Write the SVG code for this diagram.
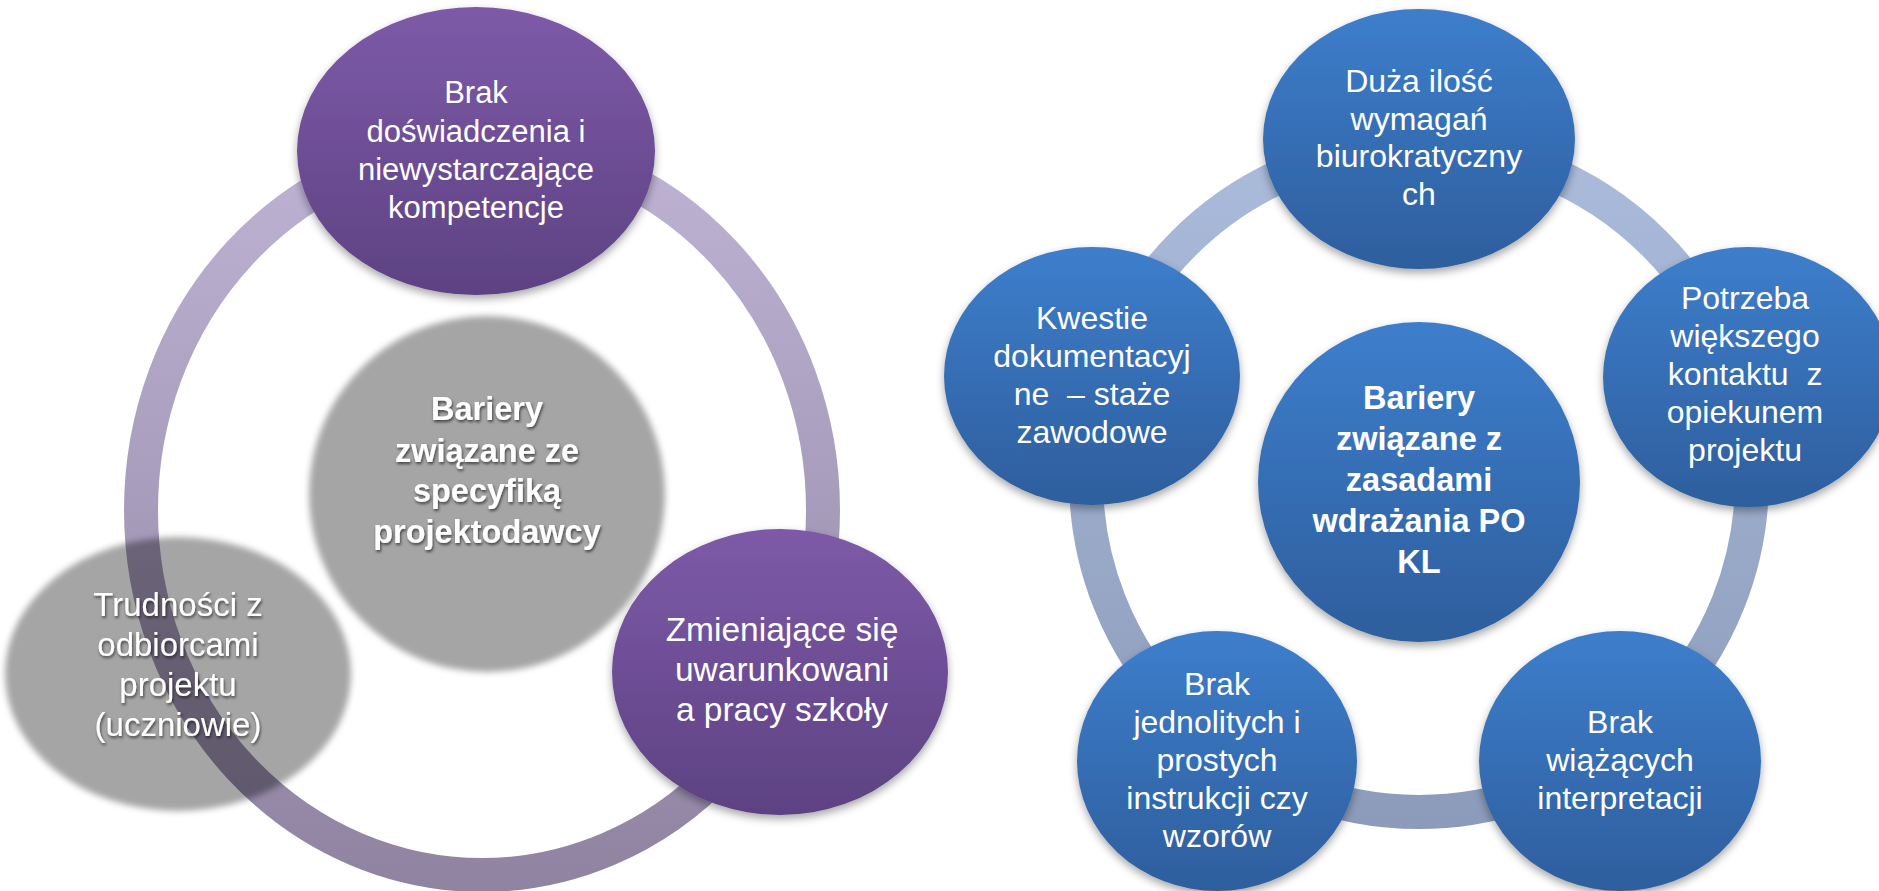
<svg xmlns="http://www.w3.org/2000/svg" width="1879" height="891" viewBox="0 0 1879 891">
<style>
.t{font-family:"Liberation Sans",Arial,sans-serif;fill:#fff;text-anchor:middle}
.b{font-weight:bold}
.pur{fill:url(#gPurple);filter:url(#shadow)}
.blu{fill:url(#gBlue);filter:url(#shadow)}
.gry{fill:#000;fill-opacity:0.353;filter:url(#soft)}
.ts{filter:url(#tshadow)}
</style>
<defs>
<linearGradient id="gPurple" x1="0" y1="0" x2="0" y2="1"><stop offset="0" stop-color="#7D5AA8"/><stop offset="1" stop-color="#5D4282"/></linearGradient>
<linearGradient id="gBlue" x1="0" y1="0" x2="0" y2="1"><stop offset="0" stop-color="#3D7ECC"/><stop offset="1" stop-color="#2E5E9D"/></linearGradient>
<linearGradient id="gRingL" gradientUnits="userSpaceOnUse" x1="0" y1="145" x2="0" y2="891"><stop offset="0" stop-color="#BEB3D3"/><stop offset="1" stop-color="#8F83A1"/></linearGradient>
<linearGradient id="gRingR" gradientUnits="userSpaceOnUse" x1="0" y1="146" x2="0" y2="830"><stop offset="0" stop-color="#AABBDB"/><stop offset="1" stop-color="#8C9BBA"/></linearGradient>
<filter id="shadow" x="-10%" y="-10%" width="120%" height="125%"><feDropShadow dx="0" dy="4" stdDeviation="4" flood-color="#000" flood-opacity="0.35"/></filter>
<filter id="soft" x="-5%" y="-5%" width="110%" height="110%"><feGaussianBlur stdDeviation="3"/></filter>
<filter id="tshadow" x="-10%" y="-30%" width="120%" height="160%"><feDropShadow dx="1" dy="2" stdDeviation="1.5" flood-color="#000" flood-opacity="0.6"/></filter>
</defs>

<g id="connectors">
<ellipse cx="482" cy="510" rx="341" ry="365" fill="none" stroke="url(#gRingL)" stroke-width="34"/>
<circle cx="1419" cy="479" r="333" fill="none" stroke="url(#gRingR)" stroke-width="34"/>
</g>

<g id="node-brak-doswiadczenia">
<ellipse class="pur" cx="476" cy="151" rx="179" ry="144"/>
<text class="t" font-size="31"><tspan x="476" y="103">Brak</tspan><tspan x="476" y="142">doświadczenia i</tspan><tspan x="476" y="180">niewystarczające</tspan><tspan x="476" y="218">kompetencje</tspan></text>
</g>

<g id="node-center-left">
<circle class="gry" cx="487" cy="494" r="178"/>
<text class="t b ts" font-size="32.5"><tspan x="487" y="420">Bariery</tspan><tspan x="487" y="462">związane ze</tspan><tspan x="487" y="502">specyfiką</tspan><tspan x="487" y="543">projektodawcy</tspan></text>
</g>

<g id="node-trudnosci">
<ellipse class="gry" cx="178" cy="674" rx="173" ry="137"/>
<text class="t ts" font-size="33"><tspan x="178" y="616">Trudności z</tspan><tspan x="178" y="656">odbiorcami</tspan><tspan x="178" y="696">projektu</tspan><tspan x="178" y="736">(uczniowie)</tspan></text>
</g>

<g id="node-zmieniajace">
<ellipse class="pur" cx="780" cy="672" rx="168" ry="143"/>
<text class="t" font-size="33.5"><tspan x="782" y="641">Zmieniające się</tspan><tspan x="782" y="681">uwarunkowani</tspan><tspan x="782" y="721">a pracy szkoły</tspan></text>
</g>

<g id="node-center-right">
<ellipse class="blu" cx="1419" cy="482" rx="161" ry="160"/>
<text class="t b" font-size="32.5"><tspan x="1419" y="409">Bariery</tspan><tspan x="1419" y="450">związane z</tspan><tspan x="1419" y="491">zasadami</tspan><tspan x="1419" y="532">wdrażania PO</tspan><tspan x="1419" y="573">KL</tspan></text>
</g>

<g id="node-duza-ilosc">
<ellipse class="blu" cx="1419" cy="139" rx="156" ry="130"/>
<text class="t" font-size="32"><tspan x="1419" y="92">Duża ilość</tspan><tspan x="1419" y="130">wymagań</tspan><tspan x="1419" y="167">biurokratyczny</tspan><tspan x="1419" y="205">ch</tspan></text>
</g>

<g id="node-potrzeba">
<ellipse class="blu" cx="1748" cy="377" rx="145" ry="130"/>
<text class="t" font-size="32"><tspan x="1745" y="309">Potrzeba</tspan><tspan x="1745" y="347">większego</tspan><tspan x="1745" y="385">kontaktu&#160; z</tspan><tspan x="1745" y="423">opiekunem</tspan><tspan x="1745" y="461">projektu</tspan></text>
</g>

<g id="node-brak-wiazacych">
<ellipse class="blu" cx="1620" cy="761" rx="141" ry="130"/>
<text class="t" font-size="32"><tspan x="1620" y="733">Brak</tspan><tspan x="1620" y="771">wiążących</tspan><tspan x="1620" y="809">interpretacji</tspan></text>
</g>

<g id="node-brak-jednolitych">
<ellipse class="blu" cx="1217" cy="761" rx="140" ry="130"/>
<text class="t" font-size="32"><tspan x="1217" y="695">Brak</tspan><tspan x="1217" y="733">jednolitych i</tspan><tspan x="1217" y="771">prostych</tspan><tspan x="1217" y="809">instrukcji czy</tspan><tspan x="1217" y="847">wzorów</tspan></text>
</g>

<g id="node-kwestie">
<ellipse class="blu" cx="1092" cy="376" rx="148" ry="129"/>
<text class="t" font-size="32"><tspan x="1092" y="329">Kwestie</tspan><tspan x="1092" y="367">dokumentacyj</tspan><tspan x="1092" y="405">ne&#160; – staże</tspan><tspan x="1092" y="443">zawodowe</tspan></text>
</g>
</svg>
